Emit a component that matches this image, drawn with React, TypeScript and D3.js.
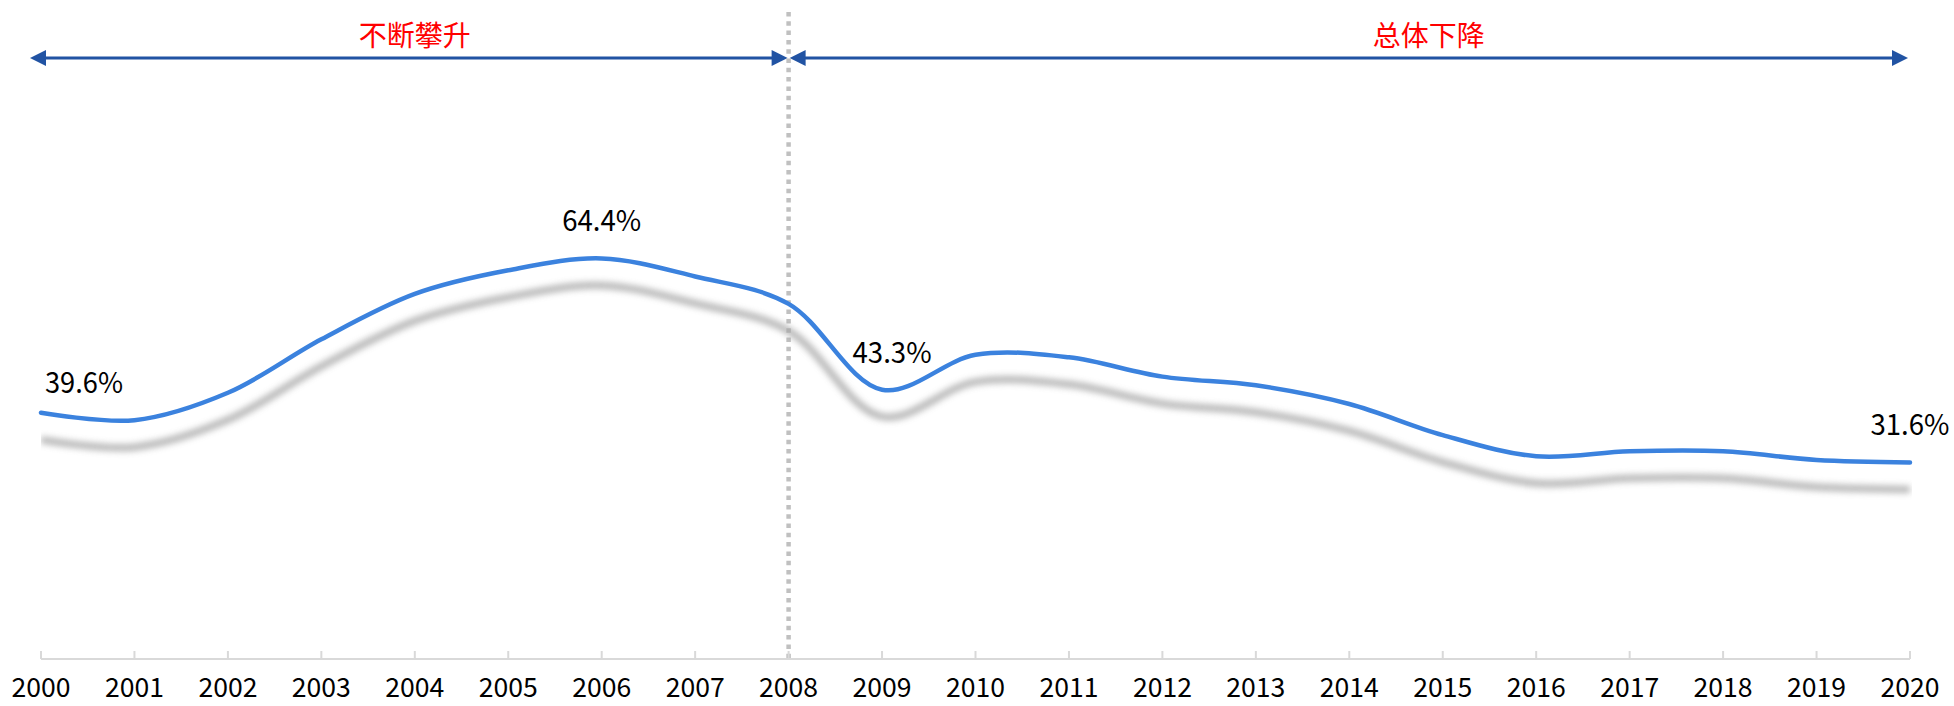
import * as d3 from 'd3';

const years = [2000, 2001, 2002, 2003, 2004, 2005, 2006, 2007, 2008, 2009, 2010,
  2011, 2012, 2013, 2014, 2015, 2016, 2017, 2018, 2019, 2020];
const shareValues = [39.6, 38.4, 42.8, 51.4, 58.7, 62.5, 64.4, 61.5, 57.1, 43.3, 48.9,
  48.5, 45.4, 44.0, 41.0, 36.0, 32.6, 33.4, 33.4, 32.0, 31.6];
// years that carry a value label
const labelYears = [2000, 2006, 2009, 2020];
const phaseLabels = ['不断攀升', '总体下降'];
const splitYear = 2008;

const W = 1954;
const H = 706;
const FONT = '"Noto Sans CJK SC", "Noto Sans", sans-serif';

export default function App() {
  const x = d3.scaleLinear().domain([2000, 2020]).range([41, 1910]);
  const y = d3.scaleLinear().domain([0, 100]).range([659, 37]);

  const pts = years.map((yr, i) => ({ yr, v: shareValues[i] }));
  const line = d3.line<{ yr: number; v: number }>()
    .x(d => x(d.yr))
    .y(d => y(d.v))
    .curve(d3.curveCatmullRom.alpha(0.5));
  const path = line(pts) || '';

  const arrowY = 58;
  const xSplit = x(splitYear);
  const blue = '#2153a3';

  const head = (tipX: number, dir: number) =>
    `M${tipX},${arrowY} L${tipX - dir * 16},${arrowY - 8} L${tipX - dir * 16},${arrowY + 8} Z`;

  return (
    <svg width={W} height={H} style={{ position: 'absolute', left: 0, top: 0, background: '#fff' }}
      fontFamily={FONT}>
      <defs>
        <filter id="blur" x="-5%" y="-50%" width="110%" height="200%">
          <feGaussianBlur stdDeviation="3" />
        </filter>
        <clipPath id="plotClip">
          <rect x={x(2000)} y={0} width={x(2020) - x(2000) + 2} height={H} />
        </clipPath>
      </defs>

      {/* phase arrows */}
      <line x1={x(2000) - 11 + 14} x2={xSplit - 14} y1={arrowY} y2={arrowY} stroke={blue} strokeWidth={3} />
      <path d={head(x(2000) - 11, -1)} fill={blue} />
      <path d={head(xSplit - 1, 1)} fill={blue} />
      <line x1={xSplit + 14} x2={x(2020) - 16} y1={arrowY} y2={arrowY} stroke={blue} strokeWidth={3} />
      <path d={head(xSplit + 1, -1)} fill={blue} />
      <path d={head(x(2020) - 2, 1)} fill={blue} />

      <text x={x(2004)} y={46} textAnchor="middle" fontSize={28} fill="#ff0000">{phaseLabels[0]}</text>
      <text x={x(2014.85)} y={46} textAnchor="middle" fontSize={28} fill="#ff0000">{phaseLabels[1]}</text>

      {/* split line */}
      <line x1={xSplit} x2={xSplit} y1={12} y2={y(0)} stroke="#c0c0c0" strokeWidth={4.5}
        strokeDasharray="4.5 4.8" />

      {/* axis */}
      <line x1={x(2000)} x2={x(2020)} y1={y(0)} y2={y(0)} stroke="#d9d9d9" strokeWidth={2} />
      {years.map(t => (
        <g key={t}>
          <line x1={x(t)} x2={x(t)} y1={y(0) - 8} y2={y(0)} stroke="#d9d9d9" strokeWidth={2} />
          <text x={x(t)} y={697} textAnchor="middle" fontSize={27} fill="#000"
            textLength={59} lengthAdjust="spacingAndGlyphs">{t}</text>
        </g>
      ))}

      {/* shadow + line */}
      <g clipPath="url(#plotClip)">
        <path d={path} transform="translate(0,27)" fill="none" stroke="#a4a4a4" strokeWidth={7}
          opacity={0.8} filter="url(#blur)" />
      </g>
      <path d={path} fill="none" stroke="#3b82de" strokeWidth={4.5} strokeLinecap="round" />

      {/* value labels */}
      {labelYears.map(yr => {
        const v = shareValues[years.indexOf(yr)];
        const first = yr === years[0];
        const px = first ? x(yr) + 4 : x(yr) + (yr === 2009 ? 10 : 0);
        const py = first ? y(v) - 20 : y(v) - 27;
        return (
          <text key={yr} x={px} y={py} textAnchor={first ? 'start' : 'middle'} fontSize={29}
            fill="#000" textLength={first ? 78 : 79} lengthAdjust="spacingAndGlyphs">
            {v.toFixed(1)}%
          </text>
        );
      })}
    </svg>
  );
}
